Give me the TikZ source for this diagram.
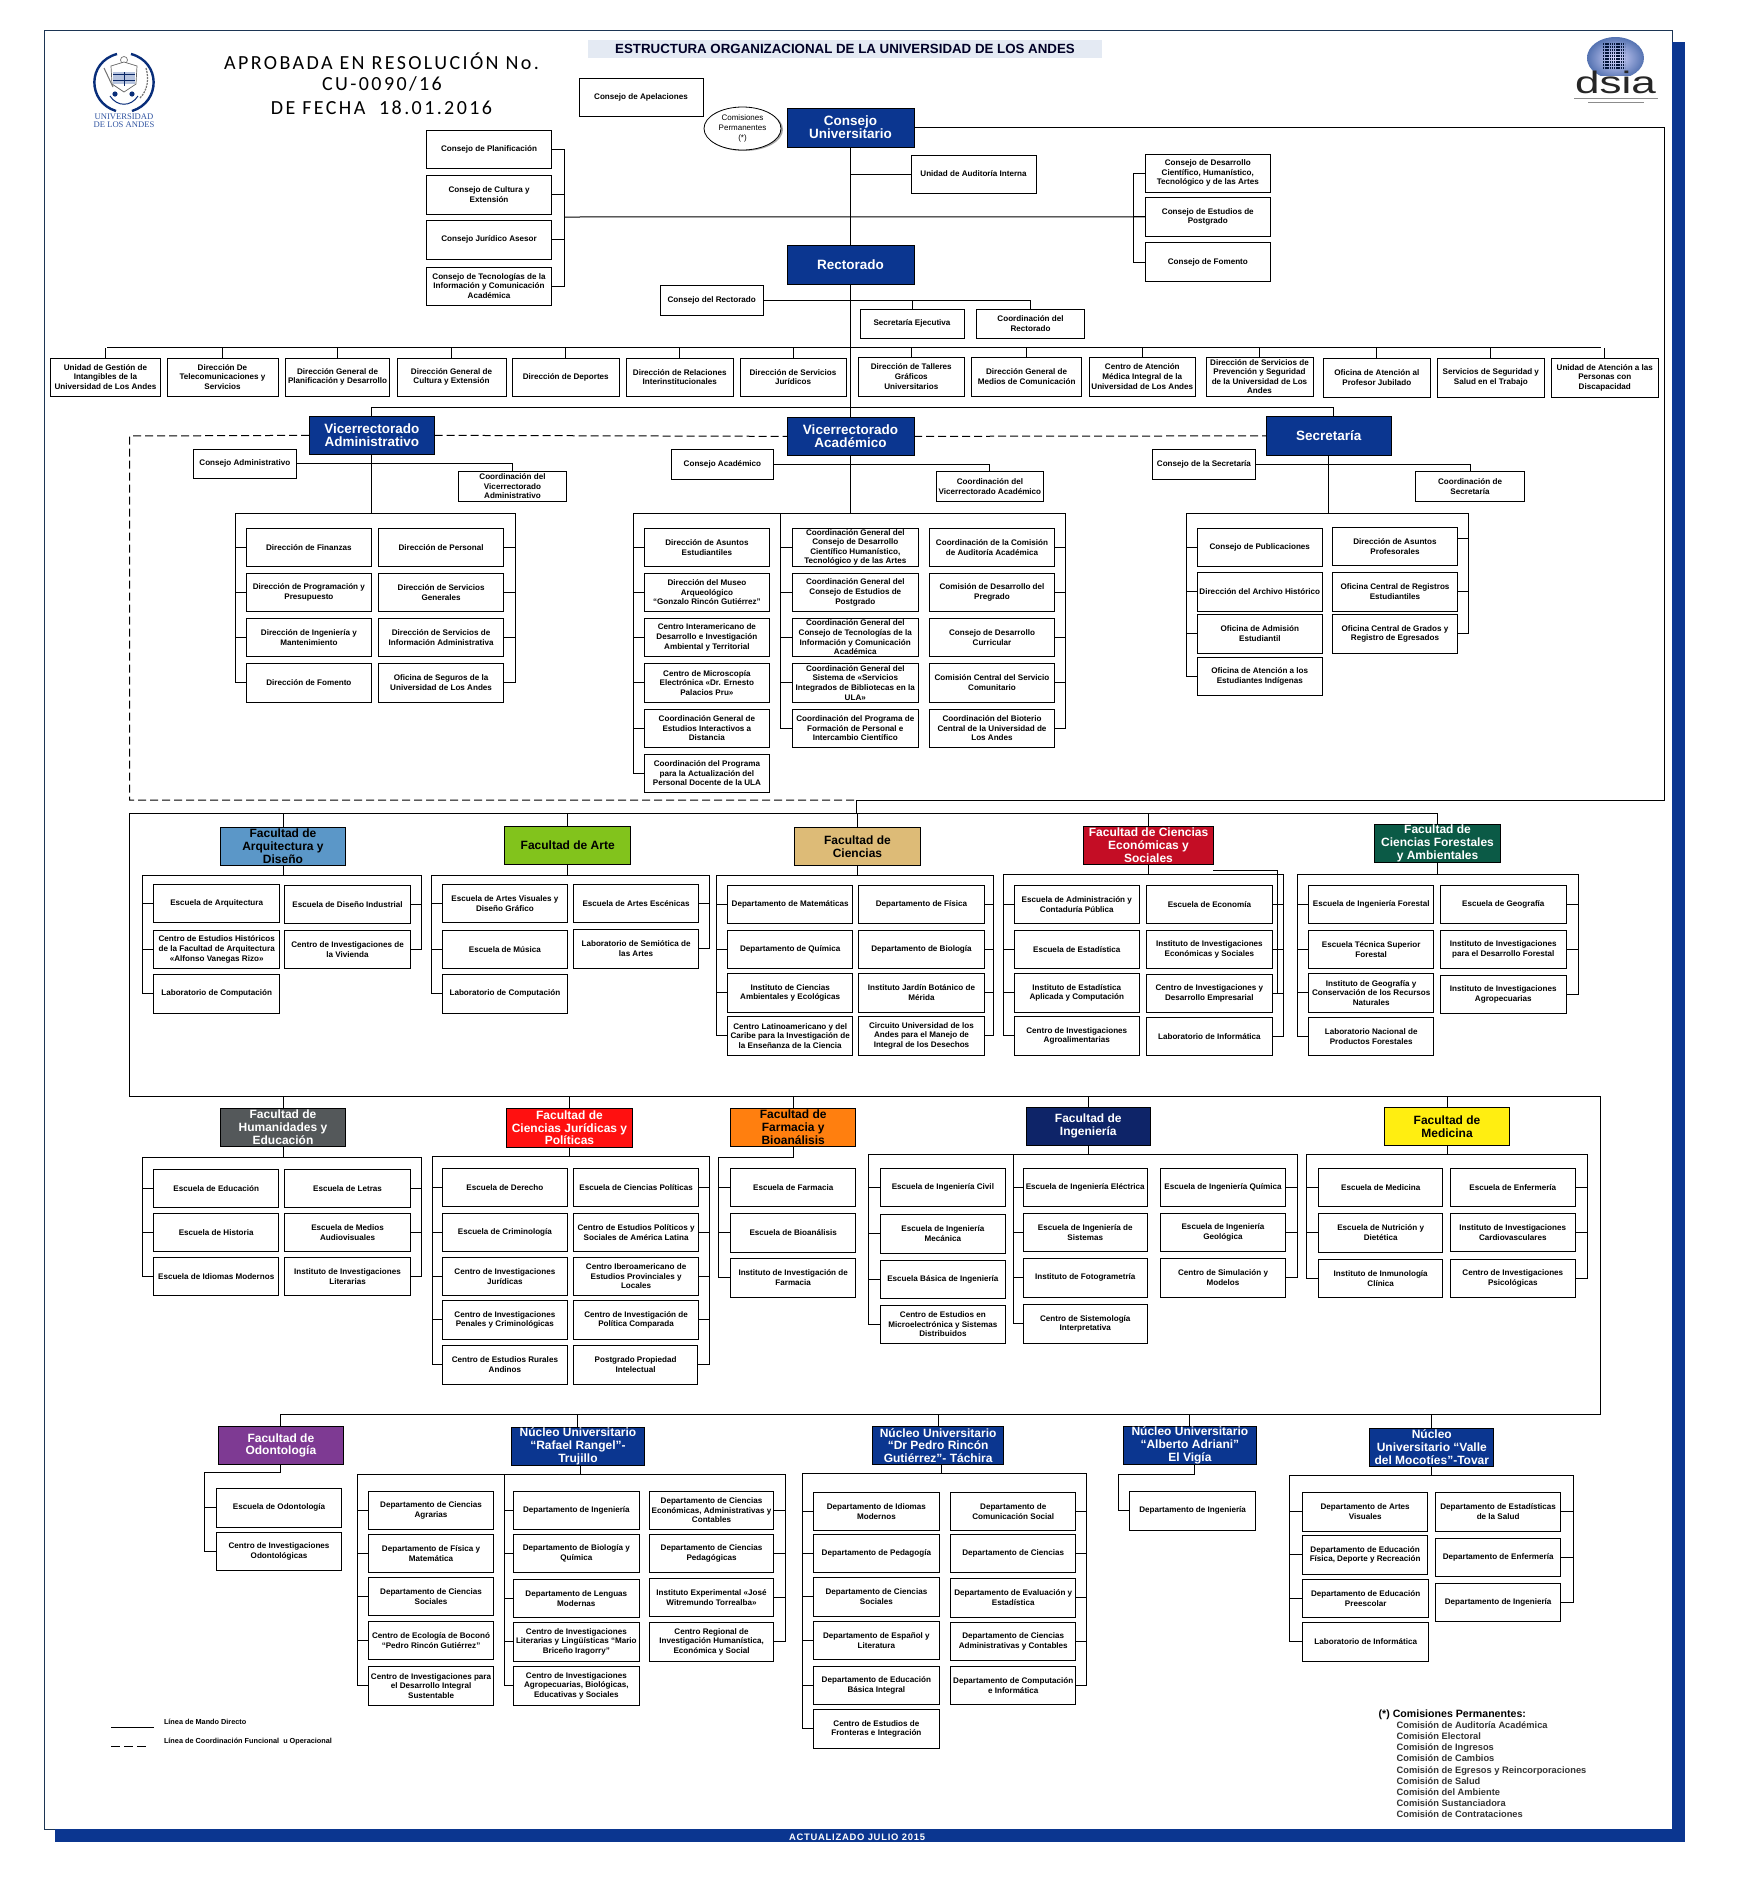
\documentclass[tikz,border=0pt]{standalone}
\usepackage{fontspec}
\setmainfont{Liberation Sans}
\newfontfamily\carl[LetterSpace=12]{Carlito}
\newfontfamily\lsans[LetterSpace=8]{Liberation Sans}
\newfontfamily\lserif{Liberation Serif}
\usetikzlibrary{shapes.geometric}
\definecolor{ulablue}{HTML}{0B3690}
\definecolor{navyline}{HTML}{1C3554}
\definecolor{titleband}{HTML}{E4EAF3}
\definecolor{carq}{HTML}{5B97C8}
\definecolor{cart}{HTML}{82C31C}
\definecolor{ccie}{HTML}{DDBB77}
\definecolor{ceco}{HTML}{C40D25}
\definecolor{cfor}{HTML}{0B5A46}
\definecolor{chum}{HTML}{54585A}
\definecolor{cjur}{HTML}{FF1010}
\definecolor{cfar}{HTML}{FF7F0F}
\definecolor{cing}{HTML}{0E2468}
\definecolor{cmed}{HTML}{FFEE11}
\definecolor{codo}{HTML}{7E3A93}
\tikzset{
  ubox/.style={draw=black,fill=white,line width=1pt,inner sep=0pt,outer sep=0pt,align=center,
    font=\fontsize{8.1}{9.6}\selectfont\bfseries},
  headbox/.style={draw=black,line width=0.8pt,inner sep=0pt,outer sep=0pt,align=center,
    font=\fontsize{12}{12.8}\selectfont\bfseries},
  conn/.style={draw=black,line width=1pt},
  dashline/.style={draw=black,line width=1pt,dash pattern=on 8pt off 4pt},
  plain/.style={inner sep=0pt,outer sep=0pt}
}
\newcommand\bx[6]{\node[ubox,minimum width={(#4-#2)*1pt},minimum height={(#5-#3)*1pt}] (#1) at ({(#2+#4)/2},{(#3+#5)/2}) {#6};}
\newcommand\hd[8]{\node[headbox,fill=#6,text=#7,minimum width={(#4-#2)*1pt},minimum height={(#5-#3)*1pt}] (#1) at ({(#2+#4)/2},{(#3+#5)/2}) {#8};}
\newcommand\brk[6]{\coordinate (#1L) at (#2,#4); \coordinate (#1R) at (#3,#4); \draw[conn] (#1L) -- (#1R);
  \foreach \n in {#5} \draw[conn] (\n.west) -| (#1L);
  \foreach \n in {#6} \draw[conn] (\n.east) -| (#1R);}
\newcommand\bigf{\fontsize{13.5}{14.3}\selectfont}
\begin{document}
\begin{tikzpicture}[x=1pt,y=-1pt]
\useasboundingbox (0,0) rectangle (1761,1904);
\fill[white] (0,0) rectangle (1761,1904);
% frame and blue strips
\fill[ulablue] (1672,42) rectangle (1685,1842);
\fill[ulablue] (55,1829) rectangle (1685,1842);
\draw[navyline,line width=0.9pt] (1672,42) -- (1672,30) -- (44,30) -- (44,1829) -- (55,1829);
\node[plain,text=white,font=\fontsize{9.4}{10}\lsans\bfseries] (upd) at (857,1837) {ACTUALIZADO JULIO 2015};
% title
\fill[titleband] (588,40) rectangle (1102,58);
\node[plain,text=black!85!blue,font=\fontsize{13.3}{14}\selectfont\bfseries] (title) at (845,48.7) {ESTRUCTURA ORGANIZACIONAL DE LA UNIVERSIDAD DE LOS ANDES};
% resolution
\node[plain,font=\fontsize{20}{23}\carl] (res1) at (381.5,61) {APROBADA EN RESOLUCIÓN No.};
\node[plain,font=\fontsize{20}{23}\carl] (res2) at (382,84) {CU-0090/16};
\node[plain,font=\fontsize{20}{23}\carl] (res3) at (381.5,108) {DE FECHA\ \ 18.01.2016};
% ULA logo
\draw[ulablue!85!black,line width=2.4pt] (117,54) .. controls (87,62) and (87,102) .. (116,111);
\draw[ulablue!85!black,line width=2.4pt] (131,54) .. controls (161,62) and (161,102) .. (132,111);
\draw[black!55,line width=0.7pt] (124,60) circle[radius=3.5];
\draw[black!60,line width=0.7pt,fill=white] (111,66) -- (124,62) -- (137,66) -- (136,84) -- (124,92) -- (112,84) -- cycle;
\fill[ulablue!30!white] (113,72) rectangle (135,84);
\draw[ulablue!70!black,line width=0.7pt] (124,72) -- (124,86) (113,74) -- (135,74) (113,80) -- (135,80);
\draw[ulablue!85!black,line width=1pt] (110,96) .. controls (117,107) and (131,107) .. (138,96);
\draw[black!55,line width=1.2pt,dash pattern=on 2pt off 1pt] (146,68) .. controls (149,78) and (148,90) .. (140,98);
\draw[black!55,line width=1pt] (104,68) -- (113,87);
\fill[ulablue!85!black] (115,94) circle[radius=2.6] (132,94) circle[radius=2.6];
\node[plain,text=ulablue!85,align=center,font=\fontsize{8.6}{8}\lserif] (ulatxt) at (124,121) {UNIVERSIDAD\\DE LOS ANDES};
% dsia logo
\shade[inner color=blue!15!white,outer color=ulablue!70!white] (1615.5,58) ellipse[x radius=28.5,y radius=21];
\foreach \yy in {44,47,50,53,56,59,62,65,68} \draw[black!60!ulablue,line width=1.6pt,dash pattern=on 1.4pt off 0.8pt] (1603,\yy) -- (1625,\yy);
\fill[white] (1586,76) rectangle (1645,80);
\node[plain,text=black!85,font=\fontsize{31}{31}\selectfont] (dsia) at (1615.5,82) {\scalebox{1.42}[1]{dsia}};
\draw[black!45,line width=0.7pt] (1574,98.5) -- (1658,98.5) (1588,102) -- (1644,102);
% council
\bx{apel}{579}{78}{703}{116}{Consejo de Apelaciones}
\fill[black!35] (744,129.5) ellipse[x radius=39,y radius=21.5];
\node[ellipse,draw=black,fill=white,line width=0.8pt,minimum width=77pt,minimum height=43pt,inner sep=0pt,align=center,font=\fontsize{8}{9.6}\selectfont] (cper) at (742.5,128.5) {Comisiones\\Permanentes\\(*)};
\hd{cu}{787}{108}{914}{147}{ulablue}{white}{\bigf Consejo\\\bigf Universitario}
\hd{rect}{787}{245}{914}{284}{ulablue}{white}{\bigf Rectorado}
\bx{p1}{426.5}{130}{551.6}{168}{Consejo de Planificación}
\bx{p2}{426.5}{175}{551.6}{214}{Consejo de Cultura y\\Extensión}
\bx{p3}{426.5}{220}{551.6}{259}{Consejo Jurídico Asesor}
\bx{p4}{426.5}{267}{551.6}{305}{Consejo de Tecnologías de la\\Información y Comunicación\\Académica}
\bx{r1}{1145.2}{154.3}{1270.4}{192.3}{Consejo de Desarrollo\\Científico, Humanístico,\\Tecnológico y de las Artes}
\bx{r2}{1145.2}{197.3}{1270.4}{236.3}{Consejo de Estudios de\\Postgrado}
\bx{r3}{1145.2}{242.3}{1270.4}{281.7}{Consejo de Fomento}
\bx{aud}{911}{155}{1036}{193}{Unidad de Auditoría Interna}
\bx{crec}{660.5}{285}{763}{315}{Consejo del Rectorado}
\bx{sej}{860}{309}{964}{338}{Secretaría Ejecutiva}
\bx{cre}{976.6}{309}{1084.5}{338}{Coordinación del\\Rectorado}
% directions row
\bx{d1}{50.5}{358}{160.5}{396}{Unidad de Gestión de\\Intangibles de la\\Universidad de Los Andes}
\bx{d2}{167}{358}{278}{396}{Dirección De\\Telecomunicaciones y\\Servicios}
\bx{d3}{285.6}{358}{389.5}{396}{Dirección General de\\Planificación y Desarrollo}
\bx{d4}{397}{358}{506}{396}{Dirección General de\\Cultura y Extensión}
\bx{d5}{512}{358}{619.5}{396}{Dirección de Deportes}
\bx{d6}{626}{358}{733.5}{396}{Dirección de Relaciones\\Interinstitucionales}
\bx{d7}{740}{358}{846}{396}{Dirección de Servicios\\Jurídicos}
\bx{d8}{858.6}{357}{964}{396}{Dirección de Talleres\\Gráficos\\Universitarios}
\bx{d9}{971.6}{357}{1081.7}{396}{Dirección General de\\Medios de Comunicación}
\bx{d10}{1089.6}{357}{1195}{396}{Centro de Atención\\Médica Integral de la\\Universidad de Los Andes}
\bx{d11}{1206}{357}{1313}{396}{Dirección de Servicios de\\Prevención y Seguridad\\de la Universidad de Los\\Andes}
\bx{d12}{1323}{358}{1430.6}{397}{Oficina de Atención al\\Profesor Jubilado}
\bx{d13}{1437}{358}{1544.6}{397}{Servicios de Seguridad y\\Salud en el Trabajo}
\bx{d14}{1551}{358}{1658.6}{397}{Unidad de Atención a las\\Personas con\\Discapacidad}
% vice
\hd{vadm}{309}{416}{434.7}{454.7}{ulablue}{white}{\bigf Vicerrectorado\\\bigf Administrativo}
\hd{vac}{787}{417}{914}{455.7}{ulablue}{white}{\bigf Vicerrectorado\\\bigf Académico}
\hd{vsec}{1266}{416}{1391.7}{455.7}{ulablue}{white}{\bigf Secretaría}
% admin
\bx{cadm}{193.4}{449.3}{296.4}{478.3}{Consejo Administrativo}
\bx{coadm}{458.7}{471.3}{566.3}{501.3}{Coordinación del\\Vicerrectorado\\Administrativo}
\bx{am1}{246.4}{528.3}{371.4}{566.3}{Dirección de Finanzas}
\bx{am2}{246.4}{573.3}{371.4}{611.3}{Dirección de Programación y\\Presupuesto}
\bx{am3}{246.4}{618.3}{371.4}{656.3}{Dirección de Ingeniería y\\Mantenimiento}
\bx{am4}{246.4}{663.3}{371.4}{702.3}{Dirección de Fomento}
\bx{an1}{378.6}{528.3}{503.6}{566.3}{Dirección de Personal}
\bx{an2}{378.6}{573.3}{503.6}{611.3}{Dirección de Servicios\\Generales}
\bx{an3}{378.6}{618.3}{503.6}{656.3}{Dirección de Servicios de\\Información Administrativa}
\bx{an4}{378.6}{663.3}{503.6}{702.3}{Oficina de Seguros de la\\Universidad de Los Andes}
% academic
\bx{cac}{671.4}{449.3}{773.5}{479.3}{Consejo Académico}
\bx{coac}{936.6}{471.3}{1043.3}{501.3}{Coordinación del\\Vicerrectorado Académico}
\bx{b1}{644.4}{528.3}{769.4}{566.3}{Dirección de Asuntos\\Estudiantiles}
\bx{b2}{644.4}{573.3}{769.4}{611.3}{Dirección del Museo\\Arqueológico\\“Gonzalo Rincón Gutiérrez”}
\bx{b3}{644.4}{618.3}{769.4}{656.3}{Centro Interamericano de\\Desarrollo e Investigación\\Ambiental y Territorial}
\bx{b4}{644.4}{663.3}{769.4}{702.3}{Centro de Microscopía\\Electrónica «Dr. Ernesto\\Palacios Pru»}
\bx{b5}{644.4}{709.3}{769.4}{747.3}{Coordinación General de\\Estudios Interactivos a\\Distancia}
\bx{b6}{644.4}{754.3}{769.4}{792.3}{Coordinación del Programa\\para la Actualización del\\Personal Docente de la ULA}
\bx{c1}{792.3}{528.3}{918.3}{566.3}{Coordinación General del\\Consejo de Desarrollo\\Científico Humanístico,\\Tecnológico y de las Artes}
\bx{c2}{792.3}{573.3}{918.3}{611.3}{Coordinación General del\\Consejo de Estudios de\\Postgrado}
\bx{c3}{792.3}{618.3}{918.3}{656.3}{Coordinación General del\\Consejo de Tecnologías de la\\Información y Comunicación\\Académica}
\bx{c4}{792.3}{663.3}{918.3}{702.3}{Coordinación General del\\Sistema de «Servicios\\Integrados de Bibliotecas en la\\ULA»}
\bx{c5}{792.3}{709.3}{918.3}{747.3}{Coordinación del Programa de\\Formación de Personal e\\Intercambio Científico}
\bx{e1}{929.5}{528.3}{1054.5}{566.3}{Coordinación de la Comisión\\de Auditoría Académica}
\bx{e2}{929.5}{573.3}{1054.5}{611.3}{Comisión de Desarrollo del\\Pregrado}
\bx{e3}{929.5}{618.3}{1054.5}{656.3}{Consejo de Desarrollo\\Curricular}
\bx{e4}{929.5}{663.3}{1054.5}{702.3}{Comisión Central del Servicio\\Comunitario}
\bx{e5}{929.5}{709.3}{1054.5}{747.3}{Coordinación del Bioterio\\Central de la Universidad de\\Los Andes}
% secretaria
\bx{csec}{1152.4}{449.3}{1255.5}{479.3}{Consejo de la Secretaría}
\bx{cosec}{1415.7}{471.3}{1524.4}{501.3}{Coordinación de\\Secretaría}
\bx{s1}{1197.3}{528.3}{1322.3}{566.3}{Consejo de Publicaciones}
\bx{s2}{1197.3}{572.3}{1322.3}{611.3}{Dirección del Archivo Histórico}
\bx{s3}{1197.3}{614.3}{1322.3}{653.3}{Oficina de Admisión\\Estudiantil}
\bx{s4}{1197.3}{657.3}{1322.3}{695.3}{Oficina de Atención a los\\Estudiantes Indígenas}
\bx{t1}{1332.5}{527.3}{1457.5}{565.3}{Dirección de Asuntos\\Profesorales}
\bx{t2}{1332.5}{572.3}{1457.5}{611.3}{Oficina Central de Registros\\Estudiantiles}
\bx{t3}{1332.5}{614.3}{1457.5}{653.3}{Oficina Central de Grados y\\Registro de Egresados}
% faculty row 1
\hd{farq}{220.5}{827.3}{345.5}{865.3}{carq}{black}{Facultad de\\Arquitectura y\\Diseño}
\hd{fart}{504.7}{826.3}{630.7}{864.3}{cart}{black}{Facultad de Arte}
\hd{fcie}{794.5}{827.3}{920.4}{865.3}{ccie}{black}{Facultad de\\Ciencias}
\hd{feco}{1083.7}{826.3}{1213.3}{864.3}{ceco}{white}{Facultad de Ciencias\\Económicas y\\Sociales}
\hd{ffor}{1374.5}{824.3}{1500.5}{862.7}{cfor}{white}{Facultad de\\Ciencias Forestales\\y Ambientales}
\bx{g1}{153.7}{884.3}{279.7}{922.3}{Escuela de Arquitectura}
\bx{g2}{153.7}{930.3}{279.7}{968.3}{Centro de Estudios Históricos\\de la Facultad de Arquitectura\\«Alfonso Vanegas Rizo»}
\bx{g3}{153.7}{974.3}{279.7}{1013.3}{Laboratorio de Computación}
\bx{h1}{284.8}{885.3}{410.3}{923.3}{Escuela de Diseño Industrial}
\bx{h2}{284.8}{930.3}{410.3}{968.3}{Centro de Investigaciones de\\la Vivienda}
\bx{i1}{442.4}{884.3}{567.4}{922.3}{Escuela de Artes Visuales y\\Diseño Gráfico}
\bx{i2}{442.4}{930.3}{567.4}{968.3}{Escuela de Música}
\bx{i3}{442.4}{974.3}{567.4}{1013.3}{Laboratorio de Computación}
\bx{j1}{573.6}{884.3}{698.6}{922.3}{Escuela de Artes Escénicas}
\bx{j2}{573.6}{929.3}{698.6}{968.3}{Laboratorio de Semiótica de\\las Artes}
\bx{k1}{727.7}{885.3}{852.7}{923.3}{Departamento de Matemáticas}
\bx{k2}{727.7}{930.3}{852.7}{968.3}{Departamento de Química}
\bx{k3}{727.7}{973.3}{852.7}{1012.3}{Instituto de Ciencias\\Ambientales y Ecológicas}
\bx{k4}{727.7}{1016.3}{852.7}{1055.3}{Centro Latinoamericano y del\\Caribe para la Investigación de\\la Enseñanza de la Ciencia}
\bx{l1}{858.3}{885.3}{984.7}{923.3}{Departamento de Física}
\bx{l2}{858.3}{930.3}{984.7}{968.3}{Departamento de Biología}
\bx{l3}{858.3}{973.3}{984.7}{1012.3}{Instituto Jardín Botánico de\\Mérida}
\bx{l4}{858.3}{1016.3}{984.7}{1055.3}{Circuito Universidad de los\\Andes para el Manejo de\\Integral de los Desechos}
\bx{m1}{1014.3}{885.3}{1139.3}{923.3}{Escuela de Administración y\\Contaduría Pública}
\bx{m2}{1014.3}{930.3}{1139.3}{968.3}{Escuela de Estadística}
\bx{m3}{1014.3}{973.3}{1139.3}{1012.3}{Instituto de Estadística\\Aplicada y Computación}
\bx{m4}{1014.3}{1016.3}{1139.3}{1055.3}{Centro de Investigaciones\\Agroalimentarias}
\bx{n1}{1146.4}{885.3}{1272.4}{923.3}{Escuela de Economía}
\bx{n2}{1146.4}{930.3}{1272.4}{968.3}{Instituto de Investigaciones\\Económicas y Sociales}
\bx{n3}{1146.4}{974.3}{1272.4}{1012.3}{Centro de Investigaciones y\\Desarrollo Empresarial}
\bx{n4}{1146.4}{1017.3}{1272.4}{1055.3}{Laboratorio de Informática}
\bx{o1}{1308.7}{885.3}{1433.7}{923.3}{Escuela de Ingeniería Forestal}
\bx{o2}{1308.7}{930.3}{1433.7}{968.3}{Escuela Técnica Superior\\Forestal}
\bx{o3}{1308.7}{973.3}{1433.7}{1012.3}{Instituto de Geografía y\\Conservación de los Recursos\\Naturales}
\bx{o4}{1308.7}{1017.3}{1433.7}{1055.3}{Laboratorio Nacional de\\Productos Forestales}
\bx{q1}{1440.3}{885.3}{1566.3}{923.3}{Escuela de Geografía}
\bx{q2}{1440.3}{930.3}{1566.3}{968.3}{Instituto de Investigaciones\\para el Desarrollo Forestal}
\bx{q3}{1440.3}{975.3}{1566.3}{1013.3}{Instituto de Investigaciones\\Agropecuarias}
% faculty row 2
\hd{fhum}{220.5}{1108.3}{345.5}{1146.3}{chum}{white}{Facultad de\\Humanidades y\\Educación}
\hd{fjur}{506.7}{1108.3}{632.2}{1147.3}{cjur}{white}{Facultad de\\Ciencias Jurídicas y\\Políticas}
\hd{ffar}{730.7}{1108.3}{855.7}{1146.3}{cfar}{black}{Facultad de\\Farmacia y\\Bioanálisis}
\hd{fing}{1026.3}{1107.3}{1150.3}{1145.3}{cing}{white}{Facultad de\\Ingeniería}
\hd{fmed}{1384.5}{1107.3}{1509.5}{1145.3}{cmed}{black}{Facultad de\\Medicina}
\bx{u1}{153.7}{1169.3}{278.7}{1207.3}{Escuela de Educación}
\bx{u2}{153.7}{1213.3}{278.7}{1251.3}{Escuela de Historia}
\bx{u3}{153.7}{1257.3}{278.7}{1295.3}{Escuela de Idiomas Modernos}
\bx{v1}{284.8}{1169.3}{410.3}{1207.3}{Escuela de Letras}
\bx{v2}{284.8}{1213.3}{410.3}{1251.3}{Escuela de Medios\\Audiovisuales}
\bx{v3}{284.8}{1257.3}{410.3}{1295.3}{Instituto de Investigaciones\\Literarias}
\bx{w1}{442.4}{1168.3}{567.4}{1206.3}{Escuela de Derecho}
\bx{w2}{442.4}{1213.3}{567.4}{1251.3}{Escuela de Criminología}
\bx{w3}{442.4}{1257.3}{567.4}{1295.3}{Centro de Investigaciones\\Jurídicas}
\bx{w4}{442.4}{1300.3}{567.4}{1339.3}{Centro de Investigaciones\\Penales y Criminológicas}
\bx{w5}{442.4}{1345.3}{567.4}{1384.3}{Centro de Estudios Rurales\\Andinos}
\bx{x1}{573.6}{1168.3}{698.6}{1206.3}{Escuela de Ciencias Políticas}
\bx{x2}{573.6}{1213.3}{698.6}{1251.3}{Centro de Estudios Políticos y\\Sociales de América Latina}
\bx{x3}{573.6}{1257.3}{698.6}{1295.3}{Centro Iberoamericano de\\Estudios Provinciales y\\Locales}
\bx{x4}{573.6}{1300.3}{698.6}{1339.3}{Centro de Investigación de\\Política Comparada}
\bx{x5}{573.6}{1345.3}{697.6}{1384.3}{Postgrado Propiedad\\Intelectual}
\bx{y1}{730.7}{1168.3}{855.7}{1206.3}{Escuela de Farmacia}
\bx{y2}{730.7}{1213.3}{855.7}{1252.3}{Escuela de Bioanálisis}
\bx{y3}{730.7}{1258.3}{855.7}{1297.3}{Instituto de Investigación de\\Farmacia}
\bx{z1}{880.4}{1168.3}{1005.4}{1206.3}{Escuela de Ingeniería Civil}
\bx{z2}{880.4}{1214.3}{1005.4}{1253.3}{Escuela de Ingeniería\\Mecánica}
\bx{z3}{880.4}{1260.3}{1005.4}{1298.3}{Escuela Básica de Ingeniería}
\bx{z4}{880.4}{1305.3}{1005.4}{1343.3}{Centro de Estudios en\\Microelectrónica y Sistemas\\Distribuidos}
\bx{aa1}{1023.3}{1168.3}{1147.2}{1206.3}{Escuela de Ingeniería Eléctrica}
\bx{aa2}{1023.3}{1213.3}{1147.2}{1251.3}{Escuela de Ingeniería de\\Sistemas}
\bx{aa3}{1023.3}{1258.3}{1147.2}{1297.3}{Instituto de Fotogrametría}
\bx{aa4}{1023.3}{1304.3}{1147.2}{1343.3}{Centro de Sistemología\\Interpretativa}
\bx{ab1}{1160.5}{1168.3}{1285.5}{1206.3}{Escuela de Ingeniería Química}
\bx{ab2}{1160.5}{1213.3}{1285.5}{1251.3}{Escuela de Ingeniería\\Geológica}
\bx{ab3}{1160.5}{1258.3}{1285.5}{1297.3}{Centro de Simulación y\\Modelos}
\bx{ac1}{1318.7}{1168.3}{1442.7}{1206.3}{Escuela de Medicina}
\bx{ac2}{1318.7}{1213.3}{1442.7}{1252.3}{Escuela de Nutrición y\\Dietética}
\bx{ac3}{1318.7}{1259.3}{1442.7}{1297.3}{Instituto de Inmunología\\Clínica}
\bx{ad1}{1450.3}{1168.3}{1575.3}{1206.3}{Escuela de Enfermería}
\bx{ad2}{1450.3}{1213.3}{1575.3}{1251.3}{Instituto de Investigaciones\\Cardiovasculares}
\bx{ad3}{1450.3}{1259.3}{1575.3}{1297.3}{Centro de Investigaciones\\Psicológicas}
% row 3
\hd{fodo}{218.5}{1426.3}{343.3}{1464.7}{codo}{white}{Facultad de\\Odontología}
\hd{nran}{511.4}{1427.3}{644.5}{1465.7}{ulablue}{white}{Núcleo Universitario\\“Rafael Rangel”-\\Trujillo}
\hd{ntac}{872.8}{1426.3}{1003.4}{1464.7}{ulablue}{white}{Núcleo Universitario\\“Dr Pedro Rincón\\Gutiérrez”- Táchira}
\hd{nvig}{1123.5}{1426.3}{1256.3}{1464.7}{ulablue}{white}{Núcleo Universitario\\“Alberto Adriani”\\El Vigía}
\hd{ntov}{1369.8}{1428.3}{1493.8}{1466.3}{ulablue}{white}{Núcleo\\Universitario “Valle\\del Mocotíes”-Tovar}
\bx{ae1}{216.6}{1488.3}{341.5}{1527.3}{Escuela de Odontología}
\bx{ae2}{216.6}{1532.3}{341.5}{1570.3}{Centro de Investigaciones\\Odontológicas}
\bx{af1}{368.6}{1491.3}{493.5}{1529.3}{Departamento de Ciencias\\Agrarias}
\bx{af2}{368.6}{1534.3}{493.5}{1572.3}{Departamento de Física y\\Matemática}
\bx{af3}{368.6}{1577.3}{493.5}{1615.3}{Departamento de Ciencias\\Sociales}
\bx{af4}{368.6}{1621.3}{493.5}{1659.3}{Centro de Ecología de Boconó\\“Pedro Rincón Gutiérrez”}
\bx{af5}{368.6}{1666.3}{493.5}{1705.3}{Centro de Investigaciones para\\el Desarrollo Integral\\Sustentable}
\bx{ag1}{513.2}{1491.3}{639.5}{1529.3}{Departamento de Ingeniería}
\bx{ag2}{513.2}{1534.3}{639.5}{1572.3}{Departamento de Biología y\\Química}
\bx{ag3}{513.2}{1579.3}{639.5}{1617.3}{Departamento de Lenguas\\Modernas}
\bx{ag4}{513.2}{1622.3}{639.5}{1661.3}{Centro de Investigaciones\\Literarias y Lingüísticas “Mario\\Briceño Iragorry”}
\bx{ag5}{513.2}{1666.3}{639.5}{1705.3}{Centro de Investigaciones\\Agropecuarias, Biológicas,\\Educativas y Sociales}
\bx{ah1}{649.6}{1491.3}{773.5}{1529.3}{Departamento de Ciencias\\Económicas, Administrativas y\\Contables}
\bx{ah2}{649.6}{1534.3}{773.5}{1572.3}{Departamento de Ciencias\\Pedagógicas}
\bx{ah3}{649.6}{1578.3}{773.5}{1616.3}{Instituto Experimental «José\\Witremundo Torrealba»}
\bx{ah4}{649.6}{1622.3}{773.5}{1661.3}{Centro Regional de\\Investigación Humanística,\\Económica y Social}
\bx{ai1}{813.6}{1492.3}{939.2}{1530.3}{Departamento de Idiomas\\Modernos}
\bx{ai2}{813.6}{1534.3}{939.2}{1572.3}{Departamento de Pedagogía}
\bx{ai3}{813.6}{1577.3}{939.2}{1616.3}{Departamento de Ciencias\\Sociales}
\bx{ai4}{813.6}{1621.3}{939.2}{1659.3}{Departamento de Español y\\Literatura}
\bx{ai5}{813.6}{1666.3}{939.2}{1704.3}{Departamento de Educación\\Básica Integral}
\bx{ai6}{813.6}{1709.3}{939.2}{1748.3}{Centro de Estudios de\\Fronteras e Integración}
\bx{aj1}{950.7}{1492.3}{1075.8}{1530.3}{Departamento de\\Comunicación Social}
\bx{aj2}{950.7}{1534.3}{1075.8}{1572.3}{Departamento de Ciencias}
\bx{aj3}{950.7}{1578.3}{1075.8}{1617.3}{Departamento de Evaluación y\\Estadística}
\bx{aj4}{950.7}{1622.3}{1075.8}{1660.3}{Departamento de Ciencias\\Administrativas y Contables}
\bx{aj5}{950.7}{1666.3}{1075.8}{1704.3}{Departamento de Computación\\e Informática}
\bx{ak1}{1129.5}{1491.3}{1255.7}{1530.3}{Departamento de Ingeniería}
\bx{al1}{1302.9}{1492.3}{1427.4}{1531.3}{Departamento de Artes\\Visuales}
\bx{al2}{1302.9}{1535.3}{1427.4}{1574.3}{Departamento de Educación\\Física, Deporte y Recreación}
\bx{al3}{1302.9}{1579.3}{1428.5}{1617.3}{Departamento de Educación\\Preescolar}
\bx{al4}{1302.9}{1622.3}{1428.5}{1661.3}{Laboratorio de Informática}
\bx{am5}{1435.6}{1492.3}{1560.7}{1531.3}{Departamento de Estadísticas\\de la Salud}
\bx{am6}{1435.6}{1538.3}{1560.7}{1576.3}{Departamento de Enfermería}
\bx{am7}{1435.6}{1583.3}{1560.7}{1621.3}{Departamento de Ingeniería}
% upper connectors
\draw[conn] (cu.south) -- (rect.north);
\draw[conn] (rect.south) -- (vac.north);
\draw[conn] (aud.west) -- (aud.west -| cu.south);
\coordinate (tcL) at (564,217);
\coordinate (tcR) at (1133,217);
\foreach \n in {p1,p2,p3,p4} \draw[conn] (\n.east) -| (tcL);
\foreach \n in {r1,r2,r3} \draw[conn] (\n.west) -| (tcR);
\draw[conn] (tcL) -- (r2.west);
\draw[conn] (crec.east) -| (cre.north);
\draw[conn] (sej.north) -- (sej.north |- crec.east);
\coordinate (dirL) at (107,347.5);
\coordinate (dirR) at (1601,347.5);
\draw[conn] (dirL) -- (dirR);
\foreach \n in {d1,d2,d3,d4,d5,d6,d7,d8,d9,d10,d11,d12,d13,d14} \draw[conn] (\n.north) -- (\n.north |- dirL);
\coordinate (vbus) at (850.5,407.3);
\draw[conn] (vadm.north) |- (vbus);
\draw[conn] ([xshift=5pt]vsec.north) |- (vbus);
\coordinate (rtop) at (1664,127.5);
\coordinate (rbot) at (1664,800);
\coordinate (fjoin) at (856.6,800);
\draw[conn] (cu.east) -- (rtop) -- (rbot) -- (fjoin);
\coordinate (dTL) at (129.6,436);
\coordinate (dBL) at (129.6,800);
\draw[dashline] (vadm.west) -- (dTL) -- (dBL) -- (fjoin);
\draw[dashline] (vadm.east) -- (vac.west);
\draw[dashline] (vac.east) -- (vsec.west);
% vice connectors
\draw[conn] (cadm.east) -| (coadm.north);
\draw[conn] (cac.east) -| (coac.north);
\draw[conn] (csec.east) -| (cosec.north);
\brk{adm}{235.2}{515.3}{513.3}{am1,am2,am3,am4}{an1,an2,an3,an4}
\draw[conn] (vadm.south) -- (vadm.south |- admL);
\brk{acd}{633.7}{1065.7}{513.3}{b1,b2,b3,b4,b5,b6}{e1,e2,e3,e4,e5}
\draw[conn] (vac.south) -- (vac.south |- acdL);
\coordinate (acdM) at (780.6,513.3);
\foreach \n in {c1,c2,c3,c4,c5} \draw[conn] (\n.west) -| (acdM);
\brk{sec}{1186.6}{1468.3}{513.3}{s1,s2,s3,s4}{t2,t3}
\draw[conn] ([yshift=8pt]t1.east) -| (secR);
\draw[conn] (vsec.south) -- (vsec.south |- secL);
% faculty buses
\coordinate (bus1L) at (129.2,813.3);
\coordinate (bus1R) at (1437.5,813.3);
\coordinate (bus2L) at (129.2,1096);
\coordinate (bus2R) at (1600,1096);
\coordinate (bus3R) at (1600,1414);
\coordinate (bus3L) at (281,1414);
\draw[conn] (fjoin) -- (fjoin |- bus1L);
\draw[conn] (bus1R) -- (bus1L) -- (bus2L) -- (bus2R) -- (bus3R) -- (bus3L);
\foreach \n in {farq,fart,fcie,feco,ffor} \draw[conn] (\n.north) -- (\n.north |- bus1L);
\foreach \n in {fhum,fjur,ffar,fing,fmed} \draw[conn] (\n.north) -- (\n.north |- bus2L);
\foreach \n in {fodo,nran,ntac,nvig,ntov} \draw[conn] (\n.north) -- (\n.north |- bus3L);
% faculty brackets row 1
\brk{ba}{142.4}{421.5}{875.3}{g1,g2,g3}{h1,h2}
\draw[conn] (farq.south) -- (farq.south |- baL);
\brk{bb}{431.7}{709.3}{875.3}{i1,i2,i3}{j1,j2}
\draw[conn] (fart.south) -- (fart.south |- bbL);
\brk{bc}{716.4}{993.4}{875.3}{k1,k2,k3,k4}{l1,l2,l3,l4}
\draw[conn] (fcie.south) -- (fcie.south |- bcL);
\brk{bd}{1003.6}{1283.7}{874.3}{m1,m2,m3,m4}{n1,n2,n3,n4}
\draw[conn] (feco.south) -- (feco.south |- bdL);
\coordinate (ecoA) at (feco.east |- 0,870.7);
\coordinate (ecoB) at (1277.6,870.7);
\draw[conn] (ecoA) -- (ecoB) -- (ecoB |- n3.east);
\brk{be}{1297.4}{1578.6}{874.3}{o1,o2,o3,o4}{q1,q2,q3}
\draw[conn] (ffor.south) -- (ffor.south |- beL);
% row 2
\brk{ca}{142.4}{421.5}{1157.3}{u1,u2,u3}{v1,v2,v3}
\draw[conn] (fhum.south) -- (fhum.south |- caL);
\brk{cb}{432.8}{709.3}{1156.3}{w1,w2,w3,w4,w5}{x1,x2,x3,x4,x5}
\draw[conn] (fjur.south) -- (fjur.south |- cbL);
\coordinate (farL) at (718.5,1157.3);
\draw[conn] (ffar.south) |- (farL);
\foreach \n in {y1,y2,y3} \draw[conn] (\n.west) -| (farL);
\brk{cd}{868.7}{1297.2}{1154.3}{z1,z2,z3,z4}{ab1,ab2,ab3}
\draw[conn] (fing.south) -- (fing.south |- cdL);
\coordinate (cdM) at (1013.6,1154.3);
\foreach \n in {aa1,aa2,aa3,aa4} \draw[conn] (\n.west) -| (cdM);
\brk{ce}{1306.4}{1587.5}{1154.3}{ac1,ac2,ac3}{ad1,ad2,ad3}
\draw[conn] (fmed.south) -- (fmed.south |- ceL);
% row 3
\coordinate (odoL) at (204.2,1472.3);
\draw[conn] (fodo.south) |- (odoL);
\foreach \n in {ae1,ae2} \draw[conn] (\n.west) -| (odoL);
\brk{da}{357.6}{785.5}{1474.3}{af1,af2,af3,af4,af5}{ah1,ah2,ah3,ah4}
\draw[conn] ([xshift=3pt]nran.south) -- ([xshift=3pt]nran.south |- daL);
\coordinate (daM) at (504.5,1474.3);
\foreach \n in {ag1,ag2,ag3,ag4,ag5} \draw[conn] (\n.west) -| (daM);
\brk{db}{802.6}{1086.8}{1473.3}{ai1,ai2,ai3,ai4,ai5,ai6}{aj1,aj2,aj3,aj4,aj5}
\draw[conn] ([xshift=3pt]ntac.south) -- ([xshift=3pt]ntac.south |- dbL);
\coordinate (vigL) at (1118.6,1474.3);
\draw[conn] ([xshift=5pt]nvig.south) |- (vigL);
\draw[conn] (ak1.west) -| (vigL);
\brk{dc}{1289.7}{1573.3}{1475.3}{al1,al2,al3,al4}{am5,am6,am7}
\draw[conn] (ntov.south) -- (ntov.south |- dcL);
% legend
\coordinate (lg1a) at (111,1727.3);
\coordinate (lg1b) at (154,1727.3);
\coordinate (lg2a) at (111,1746.3);
\coordinate (lg2b) at (146,1746.3);
\draw[conn] (lg1a) -- (lg1b);
\draw[conn,dash pattern=on 9pt off 4pt] (lg2a) -- (lg2b);
\node[plain,anchor=west,font=\fontsize{7.3}{8}\selectfont\bfseries] (lgt1) at (164,1722.3) {Línea de Mando Directo};
\node[plain,anchor=west,font=\fontsize{7.3}{8}\selectfont\bfseries] (lgt2) at (164,1741.7) {Línea de Coordinación Funcional\ \ u Operacional};
% commissions
\node[plain,anchor=west,font=\fontsize{10.6}{11}\selectfont\bfseries] (cp0) at (1378.7,1715) {(*) Comisiones Permanentes:};
\node[plain,anchor=north west,align=left,font=\fontsize{9.3}{11.2}\selectfont\bfseries,text=black!80] (cp1) at (1396.7,1721.5) {Comisión de Auditoría Académica\\Comisión Electoral\\Comisión de Ingresos\\Comisión de Cambios\\Comisión de Egresos y Reincorporaciones\\Comisión de Salud\\Comisión del Ambiente\\Comisión Sustanciadora\\Comisión de Contrataciones};
\end{tikzpicture}
\end{document}
